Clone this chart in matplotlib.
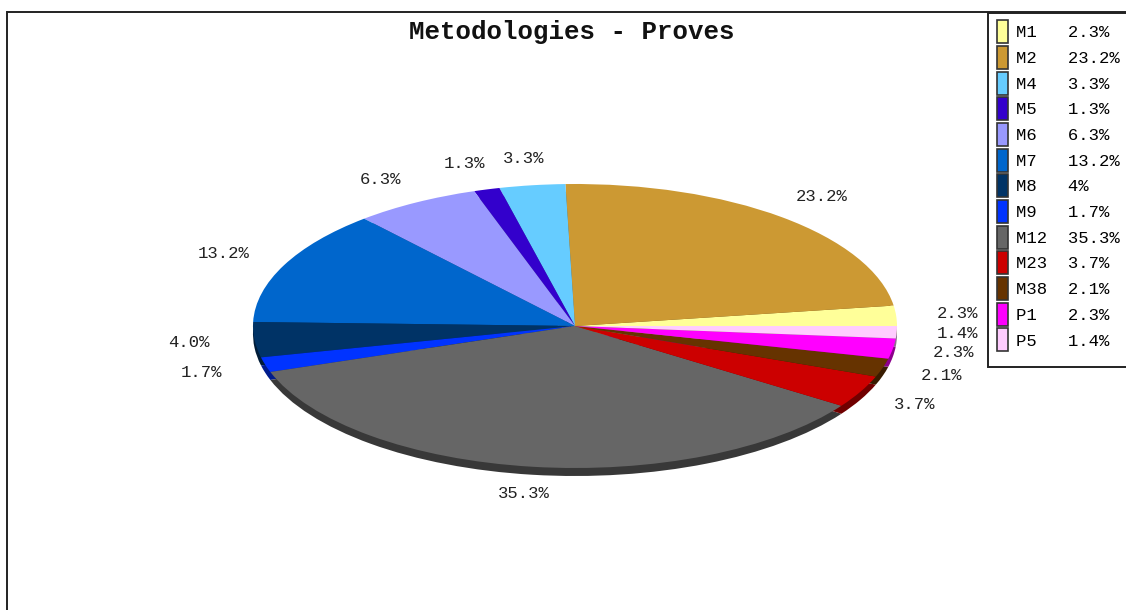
import matplotlib
matplotlib.use("Agg")
import matplotlib.pyplot as plt
from matplotlib.colors import to_rgb
from matplotlib.patches import Patch, Rectangle

plt.rcParams['font.family'] = 'Liberation Mono'

W, H = 1126, 610

names = ["M1", "M2", "M4", "M5", "M6", "M7", "M8", "M9", "M12", "M23", "M38", "P1", "P5"]
values = [2.3, 23.2, 3.3, 1.3, 6.3, 13.2, 4.0, 1.7, 35.3, 3.7, 2.1, 2.3, 1.4]
slice_labels = ["2.3%", "23.2%", "3.3%", "1.3%", "6.3%", "13.2%", "4.0%", "1.7%",
                "35.3%", "3.7%", "2.1%", "2.3%", "1.4%"]
legend_values = ["2.3%", "23.2%", "3.3%", "1.3%", "6.3%", "13.2%", "4%", "1.7%",
                 "35.3%", "3.7%", "2.1%", "2.3%", "1.4%"]
colors = ["#FFFF99", "#CC9933", "#66CCFF", "#3300CC", "#9999FF", "#0066CC", "#003366",
          "#0033FF", "#666666", "#CC0000", "#663300", "#FF00FF", "#FFCCFF"]
dark_colors = [tuple(c * 0.55 for c in to_rgb(col)) for col in colors]

fig = plt.figure(figsize=(W / 100, H / 100), dpi=100)

# axes frame is the chart border, it runs off the right and bottom of the picture
left, top = 7.5, 12
ax = fig.add_axes([left / W, 0, 1 - left / W, 1 - top / H])

# 3d side of the pie first, top face over it
ax.pie(values, colors=dark_colors, startangle=0, center=(0, -8 / 142),
       wedgeprops={"linewidth": 0})
wedges, texts = ax.pie(values, colors=colors, startangle=0, labels=slice_labels,
                       labeldistance=1.19, wedgeprops={"linewidth": 0},
                       textprops={"fontsize": 12.4, "color": "#222222",
                                  "ha": "center", "va": "center"})
# labels on the left side sit a little further out
for t in texts:
    if t.get_position()[0] < -0.2:
        t.set_x(t.get_position()[0] - 5 / 322)

# ellipse: 322 px wide radius, 142 px high radius, centre at (575, 326)
ax.set_aspect("auto")
ax.set_xlim((left - 575) / 322, (W - 575) / 322)
ax.set_ylim((326 - H) / 142, (326 - top) / 142)
ax.set_frame_on(True)
ax.spines["right"].set_visible(False)
ax.spines["bottom"].set_visible(False)
for s in ("left", "top"):
    ax.spines[s].set_linewidth(1.4)
    ax.spines[s].set_color("#222222")

fig.text(572 / W, 1 - 32 / H, "Metodologies - Proves", fontsize=18.5, fontweight="bold",
         ha="center", va="center", color="#111111")

# legend box is taller than its rows, so it gets its own rectangle
fig.add_artist(Rectangle((987.5 / W, 1 - 367 / H), 160 / W, 354 / H, transform=fig.transFigure,
                         facecolor="white", edgecolor="#222222", linewidth=1.4))
handles = [Patch(facecolor=c, edgecolor="#333333", linewidth=1.2) for c in colors]
labels = [f"{n:<5}{v}" for n, v in zip(names, legend_values)]
leg = fig.legend(handles, labels, loc="upper left", bbox_to_anchor=(988.4 / W, 1 - 11.5 / H),
                 borderaxespad=0, frameon=False, prop={"size": 12.4},
                 handlelength=0.64, handleheight=1.68, handletextpad=0.45,
                 labelspacing=0.155, borderpad=0.5)

fig.savefig("out.png", dpi=100)
